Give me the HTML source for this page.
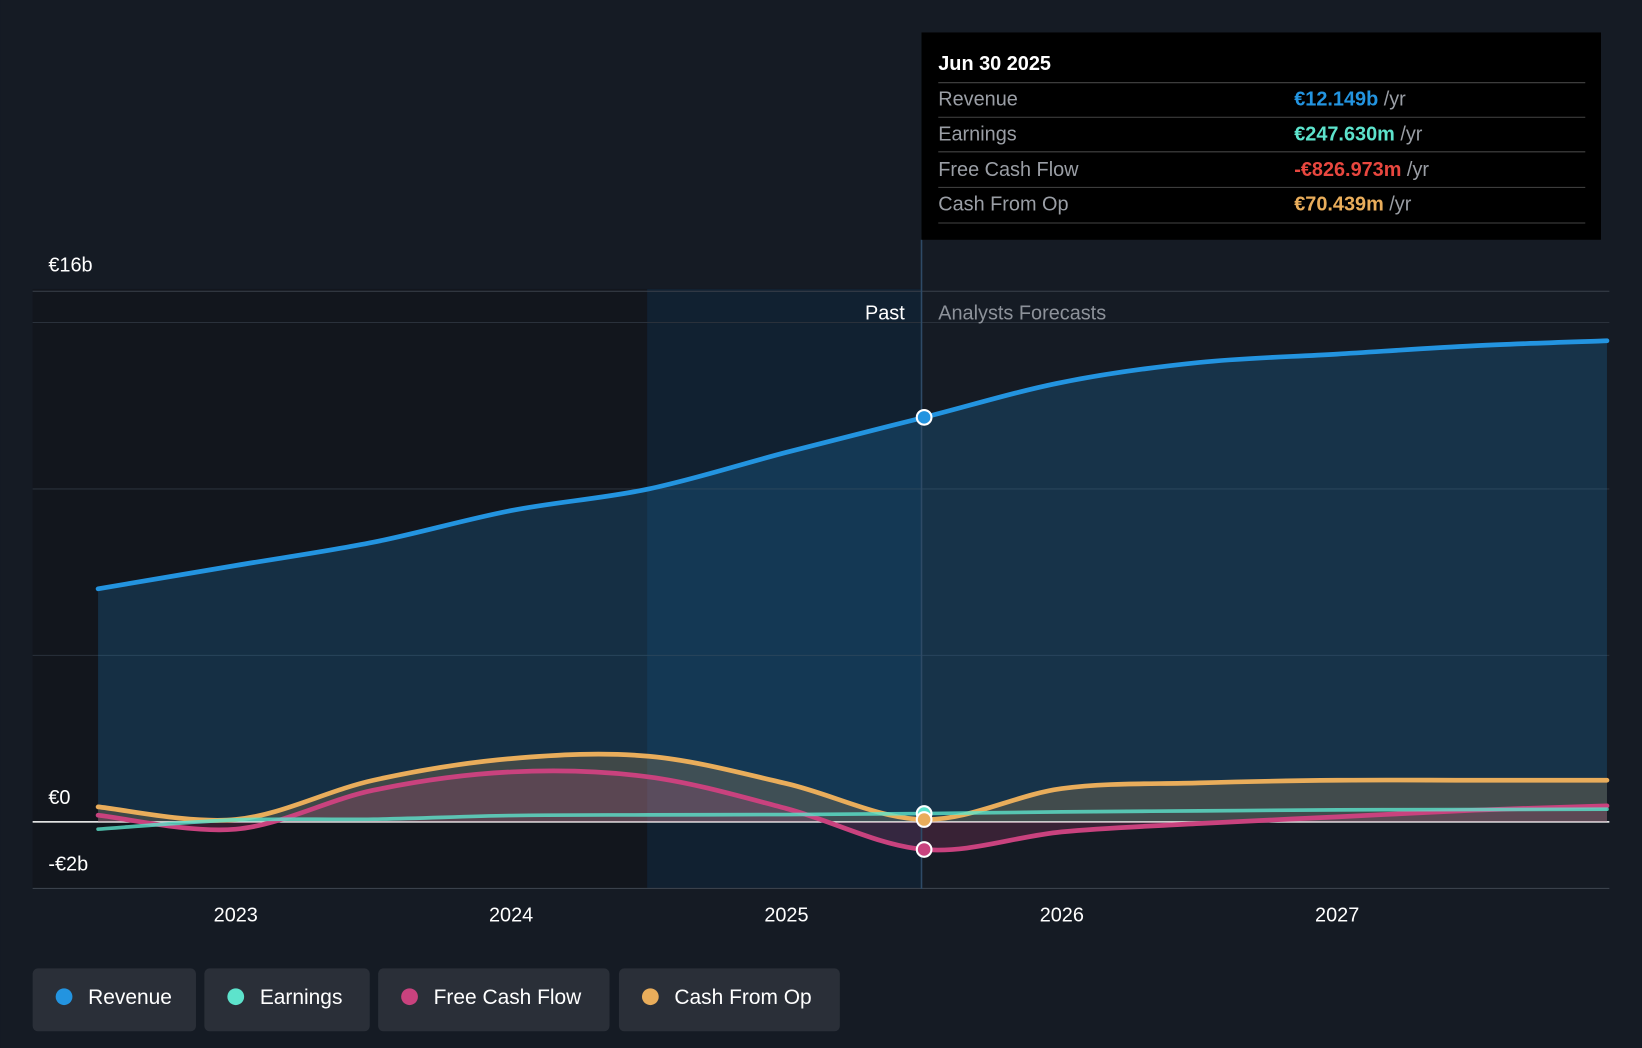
<!DOCTYPE html>
<html><head><meta charset="utf-8"><style>
html,body{margin:0;padding:0;background:#151b24;}
svg{display:block;font-family:"Liberation Sans",sans-serif;}
</style></head><body>
<svg id="chart" width="1642" height="1048" viewBox="0 0 1568 1001" xmlns="http://www.w3.org/2000/svg">
<rect x="0" y="0" width="1568" height="1001" fill="#151b24"/>
<rect x="31" y="276" width="587" height="573" fill="#12161d"/>
<rect x="618" y="276" width="262" height="573" fill="#112131"/>
<g id="grid"></g>
<g id="areas"></g>
<g id="lines"></g>
<line x1="880" y1="229" x2="880" y2="849" stroke="#2e4a66" stroke-width="1.5"/>
<text x="864" y="305" text-anchor="end" fill="#ffffff" font-size="19">Past</text>
<text x="896" y="305" fill="#8d929a" font-size="19">Analysts Forecasts</text>
<g id="dots"></g>
<g id="xlabels"></g>
<g>
<rect x="880" y="31" width="649" height="198" fill="#000000"/>
<text x="896" y="67" fill="#ffffff" font-size="19" font-weight="bold">Jun 30 2025</text>
<line x1="896" y1="79" x2="1514" y2="79" stroke="#444" />
<text x="896" y="101" fill="#9a9ea5" font-size="19">Revenue</text>
<text x="1236" y="101" font-size="19"><tspan fill="#2394e0" font-weight="bold">€12.149b</tspan><tspan fill="#9a9ea5"> /yr</tspan></text>
<line x1="896" y1="112" x2="1514" y2="112" stroke="#444" />
<text x="896" y="134" fill="#9a9ea5" font-size="19">Earnings</text>
<text x="1236" y="134" font-size="19"><tspan fill="#5de3cc" font-weight="bold">€247.630m</tspan><tspan fill="#9a9ea5"> /yr</tspan></text>
<line x1="896" y1="145" x2="1514" y2="145" stroke="#444" />
<text x="896" y="168" fill="#9a9ea5" font-size="19">Free Cash Flow</text>
<text x="1236" y="168" font-size="19"><tspan fill="#e8473f" font-weight="bold">-€826.973m</tspan><tspan fill="#9a9ea5"> /yr</tspan></text>
<line x1="896" y1="179" x2="1514" y2="179" stroke="#444" />
<text x="896" y="201" fill="#9a9ea5" font-size="19">Cash From Op</text>
<text x="1236" y="201" font-size="19"><tspan fill="#e9ad5b" font-weight="bold">€70.439m</tspan><tspan fill="#9a9ea5"> /yr</tspan></text>
<line x1="896" y1="213" x2="1514" y2="213" stroke="#444" />
</g>
<g id="legend"></g>
</svg>
<script>
const years=[2022.5,2023,2023.5,2024,2024.5,2025,2025.5,2026,2026.5,2027,2027.5,2027.98];
const revenue=[7.0,7.7,8.4,9.35,10.0,11.1,12.15,13.2,13.8,14.05,14.3,14.45];
const earnings=[-0.22,0.06,0.08,0.19,0.21,0.22,0.25,0.3,0.33,0.36,0.37,0.38];
const fcf=[0.2,-0.22,0.95,1.5,1.35,0.4,-0.83,-0.3,-0.05,0.15,0.35,0.48];
const cfo=[0.45,0.07,1.25,1.9,1.97,1.15,0.07,1.0,1.17,1.25,1.25,1.25];
const yTicks=[16,0,-2];
const yTickLabels=["€16b","€0","-€2b"];
const gridVals=[15,10,5];
const xTicks=[2023,2024,2025,2026,2027];
const NS="http://www.w3.org/2000/svg";
const X=v=>225+(v-2023)*263;
const Y=v=>785-v*31.8;
function mk(tag,attrs,parent){const e=document.createElementNS(NS,tag);for(const k in attrs)e.setAttribute(k,attrs[k]);parent.appendChild(e);return e;}
function pathD(vals){const p=years.map((y,i)=>[X(y),Y(vals[i])]);let d="M"+p[0][0]+","+p[0][1];
for(let i=0;i<p.length-1;i++){const p0=p[i-1]||p[i],p1=p[i],p2=p[i+1],p3=p[i+2]||p2;
d+=" C"+(p1[0]+(p2[0]-p0[0])/6)+","+(p1[1]+(p2[1]-p0[1])/6)+" "+(p2[0]-(p3[0]-p1[0])/6)+","+(p2[1]-(p3[1]-p1[1])/6)+" "+p2[0]+","+p2[1];}return d;}
const grid=document.getElementById('grid');
gridVals.forEach(v=>{const l=mk('line',{x1:31,x2:1537,y1:Y(v),y2:Y(v),stroke:'#2a313b','stroke-width':1},grid);

});
yTicks.forEach((v,i)=>{const l=mk('line',{x1:31,x2:1537,y1:Y(v)+(v==16?2:0),y2:Y(v)+(v==16?2:0),stroke:v==0?'#ffffff':'#3a414b','stroke-width':v==0?1.5:1},grid);


const t=mk('text',{x:46,y:Y(v)-17,fill:'#ffffff','font-size':19},grid);t.textContent=yTickLabels[i];

});
const xl=document.getElementById('xlabels');
xTicks.forEach(v=>{const t=mk('text',{x:X(v),y:880,fill:'#ffffff','font-size':19,'text-anchor':'middle'},xl);t.textContent=v;

});
const areas=document.getElementById('areas'),lines=document.getElementById('lines');
const x0=X(years[0]),x1=X(years[years.length-1]),y0=Y(0);
const series=[{n:'revenue',v:revenue,c:'#2394e0',f:'rgba(35,148,224,0.2)',w:4.5,o:1},{n:'cash-from-op',v:cfo,c:'#e9ad5b',f:'rgba(233,173,91,0.2)',w:4.5,o:1},{n:'free-cash-flow',v:fcf,c:'#c9427e',f:'rgba(201,66,126,0.2)',w:4.5,o:1},{n:'earnings',v:earnings,c:'#5de3cc',f:'none',w:3.5,o:0.8}];
series.forEach(s=>{const d=pathD(s.v);
if(s.f!='none'){const a=mk('path',{d:d+" L"+x1+","+y0+" L"+x0+","+y0+" Z",fill:s.f},areas);

}
const l=mk('path',{d:d,fill:'none',stroke:s.c,'stroke-width':s.w,'stroke-opacity':s.o,'stroke-linecap':'round'},lines);

});
const dots=document.getElementById('dots');const idx=years.indexOf(2025.5);
[['earnings',earnings,'#5de3cc'],['revenue',revenue,'#2394e0'],['free-cash-flow',fcf,'#c9427e'],['cash-from-op',cfo,'#e9ad5b']].forEach(s=>{
const c=mk('circle',{cx:X(2025.5),cy:Y(s[1][idx]),r:7,fill:s[2],stroke:'#fff','stroke-width':2},dots);

});
const lg=document.getElementById('legend');
[['Revenue','#2394e0',31,156],['Earnings','#5de3cc',195,158],['Free Cash Flow','#c9427e',361,221],['Cash From Op','#e9ad5b',591,211]].forEach(e=>{
const g=mk('g',{},lg);


mk('rect',{x:e[2],y:925,width:e[3],height:60,rx:5,fill:'#2a2f38'},g);
mk('circle',{cx:e[2]+30,cy:952,r:8,fill:e[1]},g);
const t=mk('text',{x:e[2]+53,y:959,fill:'#ffffff','font-size':20},g);t.textContent=e[0];});
</script>
</body></html>
